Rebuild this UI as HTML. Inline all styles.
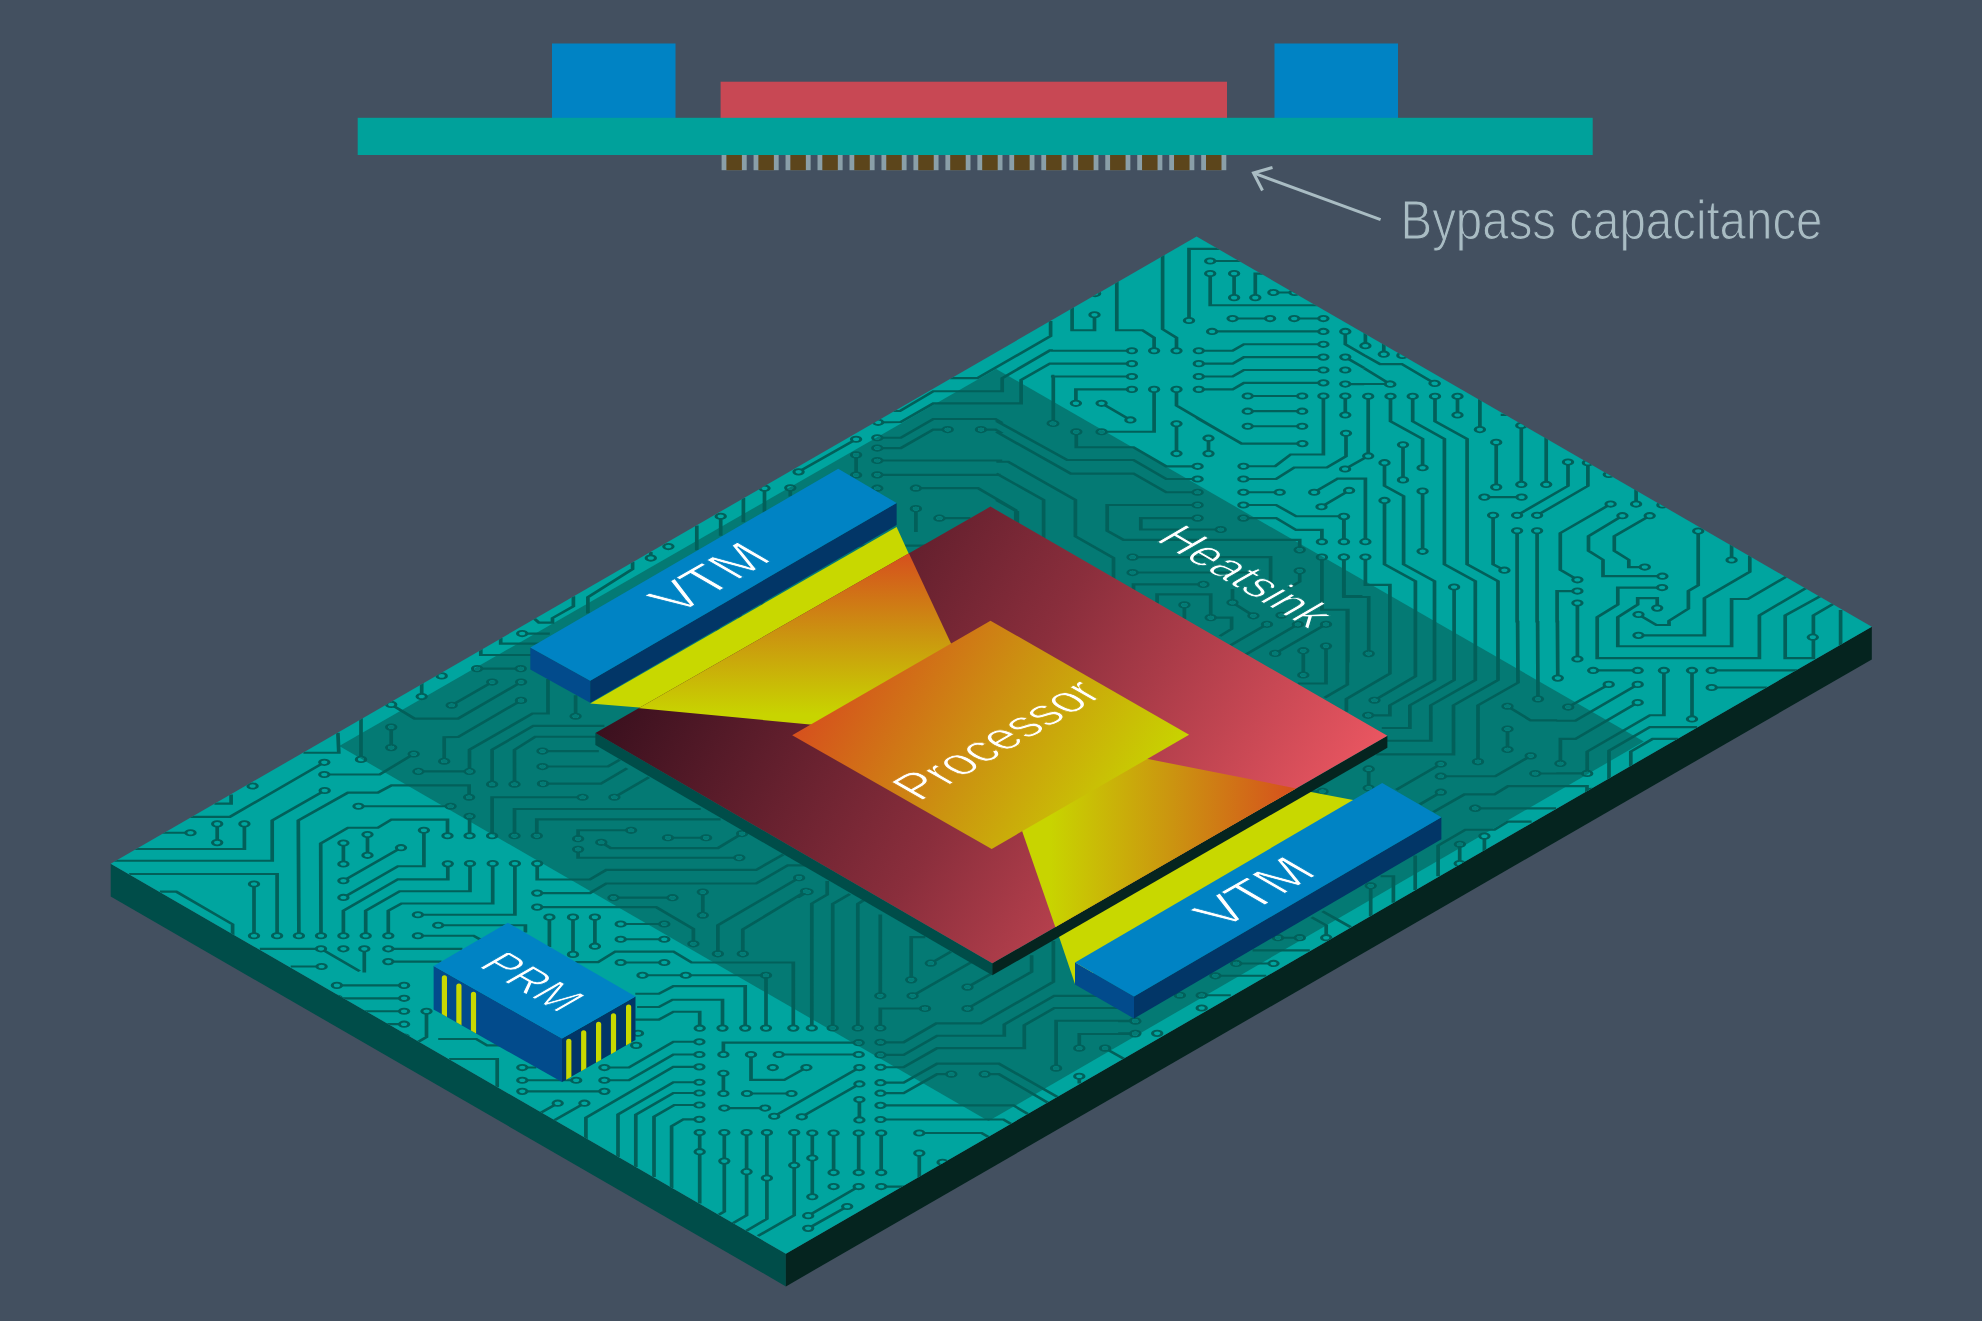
<!DOCTYPE html>
<html><head><meta charset="utf-8"><title>Processor power delivery</title>
<style>
html,body{margin:0;padding:0;background:#435060;}
svg{display:block;}
text{font-family:"Liberation Sans",sans-serif;}
</style></head><body>
<svg width="1982" height="1321" viewBox="0 0 1982 1321">
<defs>
<clipPath id="cb"><polygon points="1196.6,236.5 1871.8,626.7 785.9,1253.7 110.7,863.8"/></clipPath>
<clipPath id="chs"><polygon points="996.1,368.9 1643.8,741.6 988.5,1121.1 339.3,746.1"/></clipPath>
<clipPath id="cr"><polygon points="595.4,733.1 990.5,506.6 1387.4,735.8 992.3,963.3"/></clipPath>
<linearGradient id="gr" gradientUnits="userSpaceOnUse" x1="595.4" y1="733.1" x2="1190.8" y2="1076.8">
<stop offset="0" stop-color="#3a101e"/><stop offset="0.5" stop-color="#8a2e3c"/><stop offset="1" stop-color="#ea5661"/></linearGradient>
<linearGradient id="gp" gradientUnits="userSpaceOnUse" x1="792.2" y1="735.2" x2="1089.7" y2="907.0">
<stop offset="0" stop-color="#d6501d"/><stop offset="0.5" stop-color="#cb9410"/><stop offset="1" stop-color="#c8d400"/></linearGradient>
<linearGradient id="g1" gradientUnits="userSpaceOnUse" x1="0" y1="554" x2="0" y2="715">
<stop offset="0" stop-color="#d6501d"/><stop offset="0.5" stop-color="#cb9410"/><stop offset="1" stop-color="#c8d400"/></linearGradient>
<linearGradient id="g2" gradientUnits="userSpaceOnUse" x1="1050" y1="0" x2="1295" y2="0">
<stop offset="0" stop-color="#c8d400"/><stop offset="0.5" stop-color="#cb9410"/><stop offset="1" stop-color="#d6501d"/></linearGradient>
</defs>
<rect width="1982" height="1321" fill="#435060"/>

<g id="xsec">
<rect x="552" y="43.5" width="123.5" height="74.5" fill="#0083c4"/>
<rect x="1274.5" y="43.5" width="123.5" height="74.5" fill="#0083c4"/>
<rect x="720.6" y="81.7" width="506.4" height="36.3" fill="#c84854"/>
<rect x="357.7" y="117.8" width="1235" height="37.2" fill="#00a19b"/>
<rect x="721.60" y="155" width="25.1" height="15.2" fill="#8a9fa8"/><rect x="726.40" y="155" width="15.5" height="15.2" fill="#5c451b"/>
<rect x="753.57" y="155" width="25.1" height="15.2" fill="#8a9fa8"/><rect x="758.37" y="155" width="15.5" height="15.2" fill="#5c451b"/>
<rect x="785.55" y="155" width="25.1" height="15.2" fill="#8a9fa8"/><rect x="790.35" y="155" width="15.5" height="15.2" fill="#5c451b"/>
<rect x="817.52" y="155" width="25.1" height="15.2" fill="#8a9fa8"/><rect x="822.32" y="155" width="15.5" height="15.2" fill="#5c451b"/>
<rect x="849.49" y="155" width="25.1" height="15.2" fill="#8a9fa8"/><rect x="854.29" y="155" width="15.5" height="15.2" fill="#5c451b"/>
<rect x="881.47" y="155" width="25.1" height="15.2" fill="#8a9fa8"/><rect x="886.27" y="155" width="15.5" height="15.2" fill="#5c451b"/>
<rect x="913.44" y="155" width="25.1" height="15.2" fill="#8a9fa8"/><rect x="918.24" y="155" width="15.5" height="15.2" fill="#5c451b"/>
<rect x="945.41" y="155" width="25.1" height="15.2" fill="#8a9fa8"/><rect x="950.21" y="155" width="15.5" height="15.2" fill="#5c451b"/>
<rect x="977.39" y="155" width="25.1" height="15.2" fill="#8a9fa8"/><rect x="982.19" y="155" width="15.5" height="15.2" fill="#5c451b"/>
<rect x="1009.36" y="155" width="25.1" height="15.2" fill="#8a9fa8"/><rect x="1014.16" y="155" width="15.5" height="15.2" fill="#5c451b"/>
<rect x="1041.33" y="155" width="25.1" height="15.2" fill="#8a9fa8"/><rect x="1046.13" y="155" width="15.5" height="15.2" fill="#5c451b"/>
<rect x="1073.31" y="155" width="25.1" height="15.2" fill="#8a9fa8"/><rect x="1078.11" y="155" width="15.5" height="15.2" fill="#5c451b"/>
<rect x="1105.28" y="155" width="25.1" height="15.2" fill="#8a9fa8"/><rect x="1110.08" y="155" width="15.5" height="15.2" fill="#5c451b"/>
<rect x="1137.25" y="155" width="25.1" height="15.2" fill="#8a9fa8"/><rect x="1142.05" y="155" width="15.5" height="15.2" fill="#5c451b"/>
<rect x="1169.23" y="155" width="25.1" height="15.2" fill="#8a9fa8"/><rect x="1174.03" y="155" width="15.5" height="15.2" fill="#5c451b"/>
<rect x="1201.20" y="155" width="25.1" height="15.2" fill="#8a9fa8"/><rect x="1206.00" y="155" width="15.5" height="15.2" fill="#5c451b"/>
</g>
<g stroke="#a9bcc3" stroke-width="3" fill="none" stroke-linecap="butt"><path d="M1380.6 219.7 L1254 173.2"/><path d="M1272.5 167.5 L1253.5 173 L1262.5 190.5"/></g>
<text x="1400.5" y="239.2" font-size="55.5" fill="#a9bcc3" stroke="#435060" stroke-width="1.1" textLength="422" lengthAdjust="spacingAndGlyphs">Bypass capacitance</text>
<polygon points="110.7,863.8 785.9,1253.7 785.9,1286.4 110.7,896.5" fill="#004d49"/>
<polygon points="785.9,1253.7 1871.8,626.7 1871.8,659.4 785.9,1286.4" fill="#05241f"/>
<polygon points="1196.6,236.5 1871.8,626.7 785.9,1253.7 110.7,863.8" fill="#00a59f"/>
<polygon points="996.1,368.9 1643.8,741.6 988.5,1121.1 339.3,746.1" fill="#047a74"/>
<defs><path id="pd" d="M852.1 1348.2h0M852.1 1124.2h0M874.5 1348.2h0M874.5 1124.2h0M896.9 1348.2h0M896.9 1124.2h0M919.3 1348.2h0M919.3 1124.2h0M941.7 1348.2h0M941.7 1124.2h0M964.1 1348.2h0M964.1 1124.2h0M986.5 1348.2h0M986.5 1124.2h0M1053.7 1236.2h0M1098.5 1370.6h0M1031.3 1236.2h0M1098.5 1393.0h0M1008.9 1236.2h0M1098.5 1415.4h0M762.5 1012.2h0M762.5 1124.2h0M740.1 1012.2h0M740.1 1124.2h0M717.7 1012.2h0M717.7 1124.2h0M1031.3 1393.0h0M1031.3 1437.8h0M1008.9 1393.0h0M1008.9 1437.8h0M986.5 1393.0h0M986.5 1437.8h0M964.1 1393.0h0M964.1 1437.8h0M941.7 1393.0h0M941.7 1437.8h0M1120.9 1281.0h0M1120.9 1169.0h0M1143.3 1281.0h0M1143.3 1169.0h0M874.5 1012.2h0M874.5 1057.0h0M852.1 1012.2h0M852.1 1057.0h0M829.7 1012.2h0M829.7 1057.0h0M807.3 1012.2h0M807.3 1057.0h0M717.7 1303.4h0M717.7 1258.6h0M740.1 1303.4h0M740.1 1258.6h0M762.5 1303.4h0M762.5 1258.6h0M784.9 1303.4h0M784.9 1258.6h0M807.3 1303.4h0M807.3 1258.6h0M1300.1 1348.2h0M1120.9 1437.8h0M807.3 1079.4h0M919.3 1079.4h0M807.3 1101.8h0M919.3 1101.8h0M896.9 989.8h0M896.9 1057.0h0M829.7 1191.4h0M829.7 1303.4h0M336.9 1706.6h0M404.1 1706.6h0M336.9 1729.0h0M404.1 1729.0h0M336.9 1751.4h0M404.1 1751.4h0M336.9 1773.8h0M404.1 1773.8h0M829.7 1460.2h0M1076.1 1460.2h0M740.1 1169.0h0M784.9 1169.0h0M740.1 1191.4h0M784.9 1191.4h0M740.1 1213.8h0M784.9 1213.8h0M740.1 1236.2h0M784.9 1236.2h0M941.7 967.4h0M874.5 989.8h0M941.7 945.0h0M874.5 967.4h0M896.9 1393.0h0M852.1 1393.0h0M896.9 1370.6h0M852.1 1370.6h0M941.7 1101.8h0M941.7 1034.6h0M964.1 1101.8h0M964.1 1034.6h0M1613.7 1370.6h0M1591.3 1370.6h0M1053.7 1213.8h0M1098.5 1213.8h0M829.7 989.8h0M852.1 989.8h0M1120.9 1303.4h0M1165.7 1303.4h0M1143.3 1393.0h0M1143.3 1460.2h0M784.9 1012.2h0M807.3 945.0h0M1076.1 1281.0h0M1076.1 1236.2h0M829.7 1348.2h0M829.7 1325.8h0M1053.7 1393.0h0M1098.5 1460.2h0M1008.9 1370.6h0M919.3 1370.6h0M426.5 1751.4h0M381.7 1818.6h0M1748.1 900.2h0M1770.5 922.6h0M1143.3 1348.2h0M1120.9 1370.6h0M1076.1 1325.8h0M1098.5 1236.2h0M1031.3 1213.8h0M1008.9 1169.0h0M1725.7 900.2h0M1725.7 877.8h0M1098.5 1325.8h0M1098.5 1303.4h0M986.5 945.0h0M964.1 945.0h0M986.5 1079.4h0M986.5 967.4h0M1322.5 1370.6h0M1165.7 1370.6h0M784.9 1057.0h0M807.3 1236.2h0M964.1 967.4h0M964.1 1012.2h0M941.7 989.8h0M919.3 989.8h0M829.7 945.0h0M874.5 945.0h0M1076.1 1191.4h0M1098.5 1191.4h0M1165.7 1213.8h0M1165.7 1169.0h0M404.1 1796.2h0M717.7 1191.4h0M717.7 1146.6h0M1210.5 385.0h0M1210.5 362.6h0M292.1 1706.6h0M269.7 1706.6h0M1210.2 452.1h0M1210.2 473.8h0M1234.1 473.8h0M1234.1 515.5h0M1255.3 515.5h0M1273.4 506.6h0M1294.6 506.6h0M1189.0 555.1h0M1176.5 607.5h0M1154.1 607.5h0M1094.5 545.1h0M1131.9 607.5h0M1131.9 629.8h0M1131.9 652.1h0M1131.9 674.4h0M1075.9 698.5h0M1101.6 698.5h0M1130.4 727.3h0M1154.1 674.4h0M1101.6 747.8h0M1176.5 674.4h0M1176.5 733.9h0M1176.5 785.5h0M1198.8 607.5h0M1323.4 596.3h0M1198.8 629.8h0M1323.4 618.5h0M1198.8 652.1h0M1323.4 640.8h0M1198.8 674.4h0M1323.4 663.1h0M1212.1 574.0h0M1323.4 574.0h0M1232.6 551.7h0M1270.1 551.7h0M1294.2 551.7h0M1323.4 551.7h0M1345.3 574.0h0M1345.3 618.5h0M1345.3 640.8h0M1345.3 665.2h0M1247.7 685.9h0M1302.2 685.9h0M1247.7 712.1h0M1302.2 712.1h0M1247.7 738.3h0M1302.2 738.3h0M1323.4 685.9h0M1243.5 807.5h0M1345.3 685.9h0M1345.3 718.7h0M1095.1 508.4h0M1389.9 665.0h0M1434.5 663.8h0M1368.2 686.4h0M1368.2 789.6h0M1345.1 812.3h0M1390.5 686.4h0M1422.6 810.1h0M1412.7 686.4h0M1435.0 686.4h0M1457.5 686.4h0M1457.5 718.8h0M1479.9 744.0h0M1521.3 736.8h0M1521.3 839.0h0M1496.2 766.0h0M1496.2 843.7h0M1546.2 839.0h0M1568.0 800.3h0M1517.1 892.5h0M1587.9 801.3h0M1537.1 892.5h0M1484.4 861.0h0M1521.6 861.0h0M1346.0 750.3h0M1243.4 829.6h0M1384.5 801.3h0M1403.0 770.4h0M1403.0 831.1h0M1422.6 850.6h0M1422.6 954.8h0M1384.5 866.7h0M1365.4 938.1h0M1349.1 849.4h0M1321.5 877.7h0M1344.0 894.7h0M1344.0 938.1h0M1344.0 964.8h0M1365.4 964.8h0M1493.1 892.5h0M1504.4 987.5h0M1517.1 919.2h0M1537.1 919.2h0M1610.6 873.0h0M1577.4 1004.2h0M1622.4 893.1h0M1662.4 997.9h0M1649.7 893.1h0M1644.8 982.1h0M1636.1 873.0h0M1662.4 874.5h0M1454.1 1016.7h0M1577.4 1023.7h0M1577.4 1044.4h0M1577.4 1141.3h0M1608.8 821.7h0M1662.1 1017.6h0M1657.2 1053.2h0M1698.2 919.8h0M1638.5 1064.2h0M1638.5 1100.4h0M1731.6 969.8h0M1812.8 1103.5h0M1593.2 1161.1h0M1637.7 1161.1h0M1663.9 1161.1h0M1587.2 1339.5h0M1692.0 1161.1h0M1692.0 1245.1h0M1711.7 1161.1h0M1711.7 1190.7h0M1608.7 1185.3h0M1568.2 1224.6h0M1637.7 1185.3h0M1637.7 1216.8h0M1560.4 1322.2h0M1434.8 664.2h0M1390.3 665.4h0M1365.4 598.7h0M1383.8 613.4h0M1402.4 615.5h0M1052.7 733.1h0M1076.3 747.8h0M1197.6 807.6h0M1197.6 829.6h0M1197.6 852.6h0M1208.5 758.9h0M1208.5 785.6h0M1302.4 768.3h0M1314.2 852.6h0M1243.4 852.6h0M1279.7 852.6h0M1243.4 874.6h0M1343.8 894.1h0M1343.8 938.2h0M1243.4 897.3h0M1321.9 938.2h0M1197.6 874.6h0M1299.7 952.3h0M1197.6 897.3h0M1220.7 917.1h0M1132.6 964.9h0M1132.6 991.6h0M1203.4 1012.1h0M1210.7 1069.7h0M1184.4 1047.6h0M1299.7 988.5h0M1232.5 1043.5h0M1253.4 1066.5h0M1267.0 1081.3h0M1297.9 1081.3h0M1326.0 1081.3h0M1275.2 1131.6h0M1303.3 1126.9h0M1303.3 1169.1h0M1326.0 1119.0h0M1321.9 964.9h0M1343.8 964.9h0M1281.5 1065.6h0M1368.7 1132.0h0M1374.5 1212.8h0M1368.2 1238.9h0M1478.0 1319.1h0M1538.0 1210.6h0M1557.8 1174.4h0M1507.5 1223.2h0M1535.3 1339.6h0M1507.5 1262.5h0M1507.5 1298.1h0M1530.7 1309.1h0M1440.8 1344.3h0M1440.8 1323.2h0M1440.8 1372.0h0M1368.7 1331.7h0M1368.7 1364.7h0M1475.3 1400.0h0M1484.4 1448.1h0M1459.9 1462.3h0M361.0 1315.2h0M391.2 1259.3h0M391.2 1294.8h0M324.3 1320.3h0M324.3 1341.4h0M413.7 1305.8h0M418.4 1336.0h0M469.6 1336.0h0M444.2 1318.4h0M521.0 1213.0h0M252.6 1361.2h0M324.7 1369.0h0M469.1 1380.7h0M298.9 1620.7h0M358.5 1396.4h0M450.6 1396.4h0M190.5 1442.3h0M217.2 1426.9h0M217.2 1459.3h0M244.4 1426.9h0M447.5 1447.4h0M321.0 1620.7h0M343.4 1460.0h0M343.4 1496.4h0M367.5 1445.2h0M367.5 1481.3h0M423.9 1437.9h0M343.4 1554.3h0M401.0 1468.1h0M343.4 1525.4h0M447.8 1496.1h0M343.4 1620.7h0M470.0 1495.5h0M365.7 1620.7h0M492.7 1495.5h0M388.3 1620.7h0M417.9 1584.2h0M514.9 1495.5h0M438.2 1602.5h0M417.9 1620.7h0M277.1 1620.7h0M254.0 1531.0h0M254.0 1620.7h0M321.0 1643.3h0M343.4 1643.3h0M364.3 1643.3h0M388.3 1643.3h0M388.3 1665.4h0M321.6 1673.9h0M492.1 1358.1h0M514.5 1358.1h0M543.0 1357.2h0M582.6 1380.8h0M492.1 1447.4h0M614.4 1380.8h0M514.5 1447.4h0M536.8 1447.4h0M469.6 1413.8h0M469.6 1447.4h0M631.1 1438.0h0M578.1 1452.5h0M668.0 1450.9h0M706.1 1450.9h0M601.3 1458.8h0M742.1 1443.7h0M578.1 1471.0h0M739.3 1485.5h0M537.2 1495.6h0M537.2 1546.8h0M613.5 1554.7h0M672.5 1554.7h0M537.2 1571.1h0M693.4 1634.6h0M702.8 1545.0h0M702.8 1585.2h0M799.1 1520.1h0M717.9 1651.9h0M806.0 1543.7h0M742.8 1651.9h0M549.4 1588.4h0M573.0 1588.4h0M573.0 1652.9h0M594.9 1588.4h0M594.9 1638.7h0M620.7 1600.3h0M664.3 1600.3h0M620.7 1626.7h0M664.3 1626.7h0M620.7 1667.0h0M664.3 1667.0h0M793.3 1780.6h0M642.5 1689.0h0M766.0 1689.0h0M685.8 1689.0h0M766.0 1780.6h0M745.2 1780.6h0M722.5 1780.6h0M699.7 1780.7h0M638.0 1789.5h0M636.2 1810.5h0M699.4 1804.3h0M604.4 1848.9h0M699.4 1826.3h0M604.4 1870.9h0M699.4 1847.7h0M699.4 1874.4h0M699.4 1893.0h0M699.4 1913.7h0M699.4 1938.6h0M522.3 1848.9h0M522.3 1870.9h0M576.2 1870.9h0M522.3 1890.1h0M604.4 1890.1h0M557.7 1910.6h0M584.4 1910.6h0M723.4 1826.3h0M858.7 1805.8h0M751.0 1826.3h0M806.4 1848.9h0M778.7 1826.3h0M858.7 1826.3h0M772.8 1848.9h0M723.4 1858.7h0M723.4 1893.9h0M747.0 1893.9h0M791.5 1893.9h0M724.3 1919.1h0M765.1 1919.1h0M774.2 1933.2h0M859.4 1848.9h0M699.7 1961.5h0M699.7 1994.6h0M724.3 1961.5h0M724.3 2010.9h0M746.6 1961.5h0M746.6 2029.2h0M766.9 1961.5h0M766.9 2040.2h0M794.2 1961.5h0M794.2 2018.2h0M801.8 1934.2h0M859.4 1877.3h0M880.5 1805.2h0M880.5 1827.0h0M880.5 1848.3h0M880.5 1875.1h0M880.5 1893.3h0M951.3 1860.3h0M984.7 1860.3h0M880.5 1914.4h0M880.5 1938.9h0M859.4 1904.3h0M859.4 1939.6h0M812.3 1962.2h0M812.3 2072.6h0M812.3 2005.6h0M833.6 1962.2h0M833.6 2030.8h0M858.7 1962.2h0M858.7 2030.8h0M881.2 1962.2h0M881.2 2030.8h0M919.3 1962.2h0M919.3 1997.1h0M942.6 2012.9h0M833.6 2055.0h0M858.7 2055.0h0M808.2 2105.4h0M881.2 2055.0h0M847.2 2089.6h0M808.2 2127.4h0M1056.1 1849.9h0M1135.1 1767.8h0M1079.3 1815.3h0M1135.1 1790.8h0M1105.1 1815.3h0M1079.3 1864.1h0M878.1 731.4h0M1053.3 733.5h0M877.3 758.2h0M877.3 776.0h0M947.7 744.0h0M981.0 744.0h0M877.3 797.5h0M877.3 822.4h0M877.3 845.5h0M915.9 845.5h0M915.9 880.9h0M939.4 897.4h0M856.1 760.8h0M798.6 817.2h0M856.1 787.8h0M856.1 822.7h0M790.3 844.9h0M764.5 845.5h0M811.8 1780.4h0M832.7 1780.4h0M857.8 1780.4h0M880.3 1724.7h0M880.3 1780.4h0M925.0 1746.7h0M911.2 1697.0h0M930.8 1668.1h0M912.6 1724.7h0M967.5 1709.6h0M967.5 1746.7h0M807.6 1544.5h0M1278.0 1624.0h0M1299.8 1624.0h0M1326.2 1624.0h0M1236.2 1668.6h0M1273.5 1668.6h0M1215.4 1690.0h0M1179.9 1723.7h0M1201.7 1723.7h0M1201.7 1745.7h0M1135.4 1768.7h0M1135.4 1789.7h0M1157.2 1789.7h0M1370.7 1534.0h0M1459.7 1495.6h0M1475.1 1399.7h0M542.5 1300.8h0M542.5 1327.6h0M575.6 1240.4h0M477.1 1158.0h0M520.7 1158.0h0M492.2 1181.3h0M451.7 1221.5h0M521.1 1181.3h0M391.2 1220.0h0M441.7 1170.6h0M421.7 1206.4h0M522.2 1097.3h0M650.8 966.5h0M668.4 946.6h0M720.7 894.1h0"/></defs>
<g clip-path="url(#cb)"><g transform="scale(1 0.5774)" fill="none" stroke-linejoin="miter" stroke-linecap="round">
<path d="M852.1 1348.2 852.1 1124.2M874.5 1348.2 874.5 1124.2M896.9 1348.2 896.9 1124.2M919.3 1348.2 919.3 1124.2M941.7 1348.2 941.7 1124.2M964.1 1348.2 964.1 1124.2M986.5 1348.2 986.5 1124.2M1053.7 1236.2 1053.7 1325.8 1098.5 1370.6M1031.3 1236.2 1031.3 1325.8 1098.5 1393.0M1008.9 1236.2 1008.9 1325.8 1098.5 1415.4M762.5 1012.2 762.5 1124.2M740.1 1012.2 740.1 1124.2M717.7 1012.2 717.7 1124.2M1031.3 1393.0 1031.3 1437.8M1008.9 1393.0 1008.9 1437.8M986.5 1393.0 986.5 1437.8M964.1 1393.0 964.1 1437.8M941.7 1393.0 941.7 1437.8M1120.9 1281.0 1120.9 1169.0M1143.3 1281.0 1143.3 1169.0M874.5 1012.2 874.5 1057.0M852.1 1012.2 852.1 1057.0M829.7 1012.2 829.7 1057.0M807.3 1012.2 807.3 1057.0M717.7 1303.4 717.7 1258.6M740.1 1303.4 740.1 1258.6M762.5 1303.4 762.5 1258.6M784.9 1303.4 784.9 1258.6M807.3 1303.4 807.3 1258.6M1300.1 1348.2 1165.7 1348.2 1120.9 1393.0 1120.9 1437.8M807.3 1079.4 919.3 1079.4M807.3 1101.8 919.3 1101.8M896.9 989.8 896.9 1057.0M829.7 1191.4 829.7 1303.4M336.9 1706.6 404.1 1706.6M336.9 1729.0 404.1 1729.0M336.9 1751.4 404.1 1751.4M336.9 1773.8 404.1 1773.8M829.7 1460.2 1076.1 1460.2M740.1 1169.0 784.9 1169.0M740.1 1191.4 784.9 1191.4M740.1 1213.8 784.9 1213.8M740.1 1236.2 784.9 1236.2M941.7 967.4 896.9 967.4 874.5 989.8M941.7 945.0 896.9 945.0 874.5 967.4M896.9 1393.0 852.1 1393.0M896.9 1370.6 852.1 1370.6M941.7 1101.8 941.7 1034.6M964.1 1101.8 964.1 1034.6M1613.7 1370.6 1591.3 1370.6M1053.7 1213.8 1098.5 1213.8M829.7 989.8 852.1 989.8M1120.9 1303.4 1165.7 1303.4M1143.3 1393.0 1143.3 1460.2M784.9 1012.2 807.3 989.8 807.3 945.0M1076.1 1281.0 1076.1 1236.2M829.7 1348.2 829.7 1325.8M1053.7 1393.0 1053.7 1415.4 1098.5 1460.2M1008.9 1370.6 919.3 1370.6M426.5 1751.4 426.5 1796.2 404.1 1818.6 381.7 1818.6M1748.1 900.2 1770.5 922.6M1143.3 1348.2 1120.9 1370.6M1076.1 1325.8 1076.1 1303.4 1098.5 1281.0 1098.5 1236.2M1031.3 1213.8 1008.9 1191.4 1008.9 1169.0M1725.7 900.2 1725.7 877.8M1098.5 1325.8 1098.5 1303.4M986.5 945.0 964.1 945.0M986.5 1079.4 986.5 967.4M1322.5 1370.6 1165.7 1370.6M784.9 1057.0 784.9 1101.8 829.7 1146.6 829.7 1169.0 807.3 1191.4 807.3 1236.2M964.1 967.4 964.1 1012.2M941.7 989.8 919.3 989.8M829.7 945.0 874.5 945.0M1076.1 1191.4 1098.5 1191.4M1165.7 1213.8 1165.7 1169.0M717.7 1191.4 717.7 1146.6M1210.5 385.0 1210.5 362.6M292.1 1706.6 269.7 1706.6M1210.2 452.1 1246.2 452.1M1210.2 473.8 1210.2 528.6 1326.4 528.6M1234.1 473.8 1234.1 515.5M1265.9 473.8 1255.3 473.8 1255.3 515.5M1273.4 506.6 1294.6 506.6M1223.5 431.1 1189.0 431.1 1189.0 555.1M1162.6 437.7 1162.6 570.0 1176.5 585.0 1176.5 607.5M1116.8 484.8 1116.8 571.9 1142.5 571.9 1154.1 585.0 1154.1 607.5M1072.1 529.4 1072.1 571.9 1094.5 571.9 1094.5 545.1M1050.9 607.5 1131.9 607.5M1050.9 629.8 1131.9 629.8M1050.9 652.1 1131.9 652.1M1131.9 674.4 1075.9 674.4 1075.9 698.5M1101.6 698.5 1130.4 727.3M1154.1 674.4 1154.1 747.8 1101.6 747.8M1176.5 674.4 1176.5 702.4 1223.8 750.4M1176.5 733.9 1176.5 785.5M1198.8 607.5 1232.6 607.5 1243.9 596.3 1323.4 596.3M1198.8 629.8 1232.6 629.8 1243.9 618.5 1323.4 618.5M1198.8 652.1 1232.6 652.1 1243.9 640.8 1323.4 640.8M1198.8 674.4 1232.6 674.4 1243.9 663.1 1323.4 663.1M1212.1 574.0 1323.4 574.0M1232.6 551.7 1270.1 551.7M1294.2 551.7 1323.4 551.7M1345.3 574.0 1345.3 596.3 1364.2 615.4M1345.3 618.5 1364.2 637.4M1345.3 665.2 1364.2 665.2M1247.7 685.9 1302.2 685.9M1247.7 712.1 1302.2 712.1M1247.7 738.3 1302.2 738.3M1323.4 685.9 1323.4 787.1 1290.7 787.1 1275.2 807.5 1243.5 807.5M1345.3 685.9 1345.3 718.7M1361.8 665.0 1389.9 665.0M1368.2 686.4 1368.2 789.6M1368.2 789.6 1345.1 812.3M1390.5 686.4 1390.5 729.8 1422.6 760.4 1422.6 810.1M1412.7 686.4 1412.7 729.8 1444.4 760.4 1444.4 977.4 1475.3 1006.7 1475.3 1078.1M1435.0 686.4 1435.0 729.8 1467.1 760.4 1467.1 977.4 1498.0 1006.7 1498.0 1078.1M1457.5 686.4 1457.5 718.8M1479.9 689.6 1479.9 744.0M1500.7 718.5 1510.7 718.5M1521.3 736.8 1521.3 839.0M1496.2 766.0 1496.2 843.7M1546.2 755.6 1546.2 839.0M1568.0 800.3 1568.0 841.5 1517.1 892.5M1587.9 801.3 1587.9 841.5 1537.1 892.5M1484.4 861.0 1521.6 861.0M1346.0 750.3 1346.0 790.2 1326.9 809.7 1294.2 809.7 1276.1 829.6 1243.4 829.6M1384.5 801.3 1384.5 841.5 1403.6 859.4 1403.6 977.4 1434.5 1006.7 1434.5 1078.1M1403.0 770.4 1403.0 831.1M1422.6 850.6 1422.6 954.8M1384.5 866.7 1384.5 977.4 1415.4 1006.7 1415.4 1078.1M1336.4 828.9 1365.4 828.9 1365.4 938.1M1349.1 849.4 1321.5 877.7M1344.0 894.7 1344.0 938.1M1344.0 964.8 1344.0 1034.0 1368.7 1034.0 1368.7 1078.1M1365.4 964.8 1365.4 1013.0 1389.9 1013.0 1389.9 1078.1M1336.4 1056.1 1347.3 1056.1 1347.3 1078.1M1493.1 892.5 1493.1 977.4 1504.4 987.5M1517.1 919.2 1517.1 1078.1M1537.1 919.2 1537.1 1078.1M1610.6 873.0 1560.3 923.3 1560.3 986.9 1577.4 1004.2M1622.4 893.1 1588.5 928.7 1588.5 953.8 1603.0 969.6 1603.0 997.9 1662.4 997.9M1649.7 893.1 1614.3 928.7 1614.3 953.8 1628.8 969.6 1628.8 982.1 1644.8 982.1M1636.1 843.7 1636.1 873.0M1454.1 1016.7 1454.1 1078.1M1577.4 1023.7 1557.1 1023.7 1557.1 1078.1M1577.4 1044.4 1577.4 1141.3M1662.1 1017.6 1617.8 1017.6 1617.8 1046.9 1597.2 1068.9 1597.2 1139.7 1759.4 1139.7 1759.4 1065.8 1807.0 1017.6M1657.2 1053.2 1657.2 1035.9 1637.7 1035.9 1637.7 1046.9 1617.8 1068.9 1617.8 1119.3 1731.6 1119.3 1731.6 1037.5 1748.0 1037.5 1786.1 998.8M1698.2 919.8 1698.2 1013.6 1688.4 1023.6 1688.4 1054.1 1669.0 1075.2 1669.0 1082.4 1656.3 1082.4 1638.5 1064.2M1638.5 1100.4 1704.4 1100.4 1704.4 1035.9 1749.8 990.3 1749.8 962.0M1731.6 969.8 1731.6 943.1M1820.6 1032.1 1785.2 1065.8 1785.2 1139.7 1813.4 1139.7 1813.4 1065.8 1833.9 1045.3M1840.6 1056.3 1840.6 1118.3M1593.2 1161.1 1637.7 1161.1M1663.9 1161.1 1663.9 1238.8 1649.9 1238.8 1587.2 1301.7 1587.2 1339.5M1587.2 1339.5 1556.4 1339.5M1692.0 1161.1 1692.0 1245.1M1711.7 1161.1 1797.9 1161.1M1711.7 1190.7 1767.1 1190.7M1608.7 1185.3 1568.2 1224.6M1637.7 1185.3 1575.4 1248.2 1556.4 1248.2M1637.7 1216.8 1575.4 1279.7 1560.4 1279.7 1560.4 1322.2M1697.1 1259.2 1649.9 1259.2 1609.0 1300.1 1609.0 1355.2M1678.1 1279.7 1652.6 1279.7 1630.8 1301.7 1630.8 1328.4M1364.2 615.3 1380.0 630.6 1401.8 630.6 1434.8 664.2M1364.2 637.7 1390.3 665.4M1365.4 575.7 1365.4 598.7M1383.8 594.5 1383.8 613.4M1076.3 747.8 1076.3 774.6 1133.5 774.6 1166.2 807.6 1197.6 807.6M996.4 729.0 1067.2 796.6 1133.5 796.6 1166.2 829.6 1197.6 829.6M996.4 747.8 1070.8 820.2 1133.5 820.2 1166.2 852.6 1197.6 852.6M996.4 799.8 1008.2 799.8 1075.4 865.8 1075.4 928.7 1113.5 966.5 1113.5 1004.2M996.4 820.2 1043.6 865.8 1043.6 935.0M996.4 865.8 1017.3 886.3 1017.3 909.9M1208.5 758.9 1208.5 785.6M1196.5 723.6 1241.6 768.3 1302.4 768.3M1314.2 852.6 1337.8 828.7 1362.4 828.7M1243.4 852.6 1279.7 852.6M1243.4 874.6 1276.1 874.6 1296.1 894.1 1343.8 894.1M1343.8 894.1 1343.8 938.2M1243.4 897.3 1276.1 897.3 1296.1 917.7 1321.9 917.7 1321.9 938.2M1197.6 874.6 1107.2 874.6 1107.2 919.3 1123.5 935.0 1299.7 935.0 1299.7 952.3M1197.6 897.3 1140.8 897.3 1140.8 917.1 1220.7 917.1M1132.6 964.9 1270.6 964.9 1270.6 1010.5M1132.6 991.6 1254.3 991.6M1203.4 1012.1 1133.5 1012.1 1133.5 1023.1M1157.1 1045.1 1157.1 1029.4 1210.7 1029.4 1210.7 1069.7M1210.7 1069.7 1231.6 1069.7 1231.6 1089.2 1219.8 1101.7M1184.4 1047.6 1184.4 1071.9M1299.7 988.5 1299.7 1007.4 1288.8 1018.4M1232.5 1020.0 1232.5 1043.5M1232.5 1043.5 1253.4 1066.5M1267.0 1081.3 1230.7 1117.5M1297.9 1081.3 1241.6 1137.9M1326.0 1081.3 1275.2 1131.6M1303.3 1126.9 1303.3 1169.1M1326.0 1119.0 1326.0 1183.8 1297.9 1183.8M1321.9 964.9 1321.9 1056.1 1347.8 1056.1 1347.8 1147.4M1343.8 964.9 1343.8 1032.5 1362.4 1032.5M1347.3 1075.3 1347.3 1185.4 1324.6 1208.4M1368.7 1075.3 1368.7 1132.0M1389.9 1075.3 1389.9 1166.6 1346.4 1210.6 1346.4 1232.6M1415.4 1075.3 1415.4 1171.3 1374.5 1212.8M1434.5 1075.3 1434.5 1177.6 1389.9 1221.6 1389.9 1238.9 1368.2 1238.9M1454.1 1075.3 1454.1 1177.6 1409.9 1221.6 1409.9 1260.9 1381.8 1260.9M1475.3 1075.3 1475.3 1177.6 1430.8 1221.6 1430.8 1283.0 1386.3 1283.0M1498.0 1075.3 1498.0 1177.6 1453.5 1221.6 1453.5 1306.5 1376.3 1306.5M1517.6 1075.3 1518.0 1182.3 1478.0 1221.6 1478.0 1319.1M1537.6 1075.3 1538.0 1210.6M1557.4 1075.3 1557.8 1174.4M1557.1 1247.7 1530.7 1247.7 1507.5 1223.2M1557.1 1339.6 1535.3 1339.6M1507.5 1262.5 1507.5 1298.1M1530.7 1309.1 1495.3 1344.3 1440.8 1344.3M1440.8 1323.2 1396.3 1367.9M1440.8 1372.0 1419.9 1393.1M1368.7 1331.7 1368.7 1364.7M1587.0 1371.0 1587.0 1361.6 1508.0 1361.6 1494.4 1375.8 1464.4 1375.8 1433.5 1406.3M1475.3 1400.0 1556.1 1400.0M1531.6 1422.9 1508.0 1422.9 1494.4 1437.1 1465.3 1437.1 1438.1 1464.5 1438.1 1517.6M1484.4 1448.1 1484.4 1476.4M303.4 1303.6 338.8 1303.6 337.9 1269.0M361.0 1242.3 361.0 1315.2M391.2 1259.3 391.2 1294.8M324.3 1320.3 229.9 1414.7 187.2 1414.7M324.3 1341.4 379.7 1341.4 413.7 1305.8M418.4 1336.0 469.6 1336.0M444.2 1318.4 444.2 1276.9 458.2 1276.2 521.0 1213.0M214.4 1391.7 231.1 1391.7 231.1 1376.0M324.7 1369.0 272.2 1420.9 272.2 1490.8 113.6 1490.8M469.1 1380.7 469.1 1360.2 391.5 1360.2 377.9 1372.8 347.9 1372.8 298.3 1420.9 298.9 1620.7M358.5 1396.4 450.6 1396.4M190.5 1442.3 161.8 1442.3M217.2 1426.9 217.2 1459.3M244.4 1426.9 244.4 1470.3 134.5 1470.3M447.5 1447.4 447.5 1419.4 391.5 1419.4 377.9 1433.5 347.9 1433.5 320.7 1460.9 321.0 1620.7M343.4 1460.0 343.4 1496.4M367.5 1445.2 367.5 1481.3M423.9 1437.9 423.9 1500.2 397.9 1500.2 343.4 1554.3M401.0 1468.1 343.4 1525.4M447.8 1496.1 447.8 1522.9 397.9 1522.9 343.4 1577.3 343.4 1620.7M470.0 1495.5 470.0 1543.6 399.7 1543.6 365.7 1577.3 365.7 1620.7M492.7 1495.5 492.7 1564.7 401.5 1564.7 388.3 1577.3 388.3 1620.7M417.9 1584.2 514.9 1584.2 514.9 1495.5M438.2 1602.5 525.4 1602.5 525.4 1615.0M417.9 1620.7 473.6 1620.7 481.4 1628.2M129.1 1513.7 277.1 1513.7 277.1 1620.7M254.0 1531.0 254.0 1620.7M159.9 1544.3 176.3 1544.3 232.6 1600.9 232.6 1619.8M259.8 1643.3 321.0 1643.3M321.0 1643.3 359.7 1682.0M364.3 1643.3 364.3 1684.2M388.3 1643.3 462.4 1643.3M388.3 1665.4 441.5 1665.4M321.6 1673.9 290.7 1673.9M492.1 1358.1 492.1 1298.6 533.4 1257.1 604.4 1257.1M514.5 1358.1 514.5 1298.6 535.2 1276.0 600.8 1276.0M543.0 1357.2 600.8 1357.2 627.1 1330.4M582.6 1380.8 492.1 1380.8 492.1 1447.4M614.4 1380.8 648.9 1346.1M700.7 1401.2 514.5 1401.2 514.5 1447.4M720.6 1419.1 536.8 1419.1 536.8 1447.4M469.6 1413.8 469.6 1447.4M631.1 1438.0 578.1 1438.0 578.1 1452.5M668.0 1450.9 706.1 1450.9M601.3 1458.8 610.7 1468.8 717.9 1468.8 742.1 1443.7M578.1 1471.0 578.1 1485.5 739.3 1485.5M537.2 1495.6 537.2 1523.3 589.9 1523.3 606.2 1506.6 756.1 1506.6 783.3 1479.8M537.2 1546.8 589.9 1546.8 606.2 1530.2 756.1 1530.2 787.8 1498.7 812.4 1498.7M613.5 1554.7 672.5 1554.7M537.2 1571.1 656.2 1571.1 693.4 1608.8 693.4 1634.6M702.8 1545.0 702.8 1585.2M799.1 1520.1 717.9 1602.5 717.9 1651.9M806.0 1543.7 742.8 1609.8 742.8 1651.9M549.4 1588.4 549.4 1640.3M573.0 1588.4 573.0 1652.9M594.9 1588.4 594.9 1638.7M620.7 1600.3 664.3 1600.3M620.7 1626.7 664.3 1626.7M620.7 1667.0 664.3 1667.0M575.3 1666.4 598.0 1666.4 615.3 1648.1 673.4 1648.1 691.6 1667.0 793.3 1667.0 793.3 1780.6M642.5 1689.0 766.0 1689.0M766.0 1689.0 766.0 1780.6M635.3 1721.1 658.9 1721.1 673.4 1707.9 745.2 1707.9 745.2 1780.6M637.1 1744.1 658.9 1744.1 672.5 1731.5 722.5 1731.5 722.5 1780.6M635.3 1765.9 658.9 1765.9 673.4 1752.3 699.7 1752.3 699.7 1780.7M699.4 1804.3 673.4 1804.3 628.9 1848.9 604.4 1848.9M699.4 1826.3 673.4 1826.3 628.9 1870.9 604.4 1870.9M699.4 1847.7 673.4 1847.7 585.9 1935.7 585.9 1974.1M699.4 1874.4 673.4 1874.4 618.0 1930.1 618.0 2004.0M699.4 1893.0 673.4 1893.0 635.8 1930.7 635.8 2021.3M699.4 1913.7 674.3 1913.7 654.0 1933.9 654.0 2038.6M699.4 1938.6 683.4 1938.6 671.6 1950.5 671.6 2057.5M522.3 1848.9 536.3 1848.9M522.3 1870.9 576.2 1870.9M522.3 1890.1 604.4 1890.1M557.7 1910.6 539.9 1928.2M584.4 1910.6 553.5 1941.1M438.2 1799.5 476.3 1799.5 487.2 1810.5 499.9 1810.5M449.1 1834.1 497.2 1834.1 497.2 1882.9M723.4 1826.3 723.4 1805.8 858.7 1805.8M751.0 1826.3 751.0 1870.3 784.2 1870.3 806.4 1848.9M778.7 1826.3 858.7 1826.3M723.4 1858.7 723.4 1893.9M747.0 1893.9 791.5 1893.9M724.3 1919.1 765.1 1919.1M774.2 1933.2 859.4 1848.9M699.7 1961.5 699.7 2084.2M724.3 1961.5 724.3 2098.4 718.8 2104.0M746.6 1961.5 746.6 2104.7 732.4 2118.8M766.9 1961.5 766.9 2111.0 746.1 2132.0M794.2 1961.5 794.2 2104.7 757.9 2140.8M801.8 1934.2 859.4 1877.3M880.5 1805.2 903.5 1805.2 936.2 1772.5 980.7 1772.5 1053.4 1700.2 1053.4 1629.7M880.5 1827.0 903.5 1827.0 937.1 1793.9 1004.3 1793.9 1004.3 1774.1 1054.3 1724.7 1097.0 1724.7M880.5 1848.3 903.5 1848.3 937.1 1815.3 1024.3 1815.3 1024.3 1775.7 1054.3 1745.8 1121.5 1745.8M880.5 1875.1 903.5 1875.1 937.1 1842.1 998.9 1842.1 1058.8 1901.2M880.5 1893.3 903.5 1893.3 937.1 1860.3 951.3 1860.3M984.7 1860.3 998.9 1860.3 1047.9 1909.7M880.5 1914.4 1013.4 1914.4 1028.8 1930.1M880.5 1938.9 1003.4 1938.9 1012.5 1948.1M859.4 1904.3 859.4 1939.6M812.3 1962.2 812.3 2072.6M833.6 1962.2 833.6 2030.8M858.7 1962.2 858.7 2030.8M881.2 1962.2 881.2 2030.8M919.3 1962.2 981.6 1962.2 989.8 1970.4M919.3 1997.1 919.3 2040.2M858.7 2055.0 808.2 2105.4M881.2 2055.0 904.4 2055.0M847.2 2089.6 808.2 2127.4M1056.1 1849.9 1056.1 1767.8 1135.1 1767.8M1079.3 1815.3 1079.3 1790.8 1135.1 1790.8M1105.1 1815.3 1124.2 1834.2M1079.3 1864.1 1079.3 1876.7M1052.9 606.9 1049.9 606.9 1002.2 654.9 1002.2 677.7 933.3 677.7 900.0 711.8 893.2 711.8M1052.9 629.7 1049.9 629.7 1021.1 658.0 1021.1 698.7 933.3 698.7 900.8 730.9 878.1 731.4M1054.4 651.0 1053.3 651.0 1053.3 733.5M1050.6 555.8 1050.6 582.0 977.2 654.9 950.0 654.9M877.3 758.2 900.8 758.2 933.3 725.7 995.4 725.7 1002.2 732.5M877.3 776.0 900.8 776.0 933.3 744.0 947.7 744.0M981.0 744.0 995.4 744.0 1002.2 750.8M877.3 797.5 1002.2 797.5M877.3 822.4 1000.7 822.4M915.9 845.5 978.0 845.5 1015.8 883.5 1015.8 901.8M915.9 880.9 915.9 921.5M939.4 897.4 970.4 897.4M856.1 760.8 798.6 817.2M856.1 787.8 856.1 822.7M790.3 844.9 790.3 859.9M764.5 845.5 764.5 888.7M827.2 1525.6 827.2 1549.2 811.8 1564.9 811.8 1780.4M849.9 1548.2 832.7 1565.5 832.7 1780.4M863.6 1559.2 857.8 1565.5 857.8 1780.4M880.3 1583.8 880.3 1724.7M880.3 1780.4 880.3 1746.7 925.0 1746.7M911.2 1697.0 911.2 1623.1 925.3 1623.1M930.8 1668.1 950.8 1648.3M912.6 1724.7 971.6 1666.2M967.5 1709.6 991.6 1686.0M967.5 1746.7 1031.6 1682.9 1031.6 1654.6M807.6 1544.5 798.2 1553.9M1278.0 1624.0 1299.8 1624.0M1326.2 1624.0 1326.2 1602.6 1311.6 1588.4M1322.5 1578.0 1350.7 1605.7M1252.6 1646.0 1309.8 1646.0M1236.2 1668.6 1273.5 1668.6M1215.4 1690.0 1266.2 1690.0M1201.7 1723.7 1230.8 1723.7M1118.2 1768.7 1135.4 1768.7M1118.2 1789.7 1135.4 1789.7M1370.7 1534.0 1370.7 1586.8M1380.6 1517.6 1393.4 1517.6 1393.4 1563.3M1415.2 1481.5 1415.2 1541.2M1459.7 1462.6 1459.7 1495.6M469.5 1336.0 469.5 1298.6 532.5 1235.7 548.0 1235.7 548.0 1175.9M542.5 1300.8 598.8 1300.8M542.5 1327.6 607.9 1327.6 619.7 1315.9M575.6 1240.4 575.6 1204.2M477.1 1158.0 520.7 1158.0M492.2 1181.3 451.7 1221.5M521.1 1181.3 458.1 1244.5 414.5 1244.5 391.2 1220.0M421.7 1206.4 421.7 1182.2M522.2 1097.3 549.8 1097.3M500.7 1105.1 500.7 1114.6 540.7 1114.6M480.8 1124.0 480.8 1134.4 532.5 1134.4M534.3 1071.5 538.9 1078.4 552.5 1078.4 552.5 1070.5 573.4 1050.1 573.4 1032.8M587.9 1062.7 587.9 1034.4 632.6 985.6 632.6 973.0M650.8 966.5 650.8 956.0M696.8 909.9 696.8 952.8M720.7 894.1 720.7 927.7M743.4 862.7 743.4 904.6" stroke="#02605a" stroke-width="3.7" stroke-linecap="butt"/>
<use href="#pd" stroke="#02605a" stroke-width="12.4"/>
<use href="#pd" stroke="#00a59f" stroke-width="6.2"/>
</g></g>
<g clip-path="url(#chs)"><g transform="scale(1 0.5774)" fill="none" stroke-linecap="round"><use href="#pd" stroke="#047a74" stroke-width="6.2"/></g></g>
<polygon points="590.2,703.5 896.6,527.0 949.6,643.6 814.9,721.9" fill="#c8d800"/>
<polygon points="1148.3,761.1 1382.2,805.5 1075.0,984.0 1023.5,831.6" fill="#c8d800"/>
<polygon points="595.4,733.1 992.3,963.3 992.3,975.3 595.4,745.1" fill="#004d49"/>
<polygon points="992.3,963.3 1387.4,735.8 1387.4,747.8 992.3,975.3" fill="#05241f"/>
<polygon points="595.4,733.1 990.5,506.6 1387.4,735.8 992.3,963.3" fill="url(#gr)"/>
<g clip-path="url(#cr)"><polygon points="590.2,703.5 896.6,527.0 955.0,652.0 826.0,726.0" fill="url(#g1)"/><polygon points="1138.0,757.0 1382.2,805.5 1075.0,984.0 1019.0,822.0" fill="url(#g2)"/></g>
<polygon points="792.2,735.2 990.5,620.7 1189.1,734.8 991.7,848.9" fill="url(#gp)"/>
<polygon points="530.3,647.4 590.2,680.7 590.2,702.7 530.3,669.4" fill="#024b8c"/><polygon points="590.2,680.7 896.6,503.0 896.6,525.0 590.2,702.7" fill="#023667"/><polygon points="530.3,647.4 838.2,468.8 896.6,503.0 590.2,680.7" fill="#0083c4"/>
<polygon points="1075.0,962.4 1134.0,996.5 1134.0,1018.5 1075.0,984.4" fill="#024b8c"/><polygon points="1134.0,996.5 1441.4,817.3 1441.4,839.3 1134.0,1018.5" fill="#023667"/><polygon points="1075.0,962.4 1382.2,783.1 1441.4,817.3 1134.0,996.5" fill="#0083c4"/>
<polygon points="433.6,965.9 562.0,1038.6 562.0,1082.1 433.6,1009.4" fill="#024b8c"/><polygon points="562.0,1038.6 635.5,996.6 635.5,1040.1 562.0,1082.1" fill="#023667"/><path d="M441.8 1014.0 V977.8 a2.6 2.6 0 0 1 5.2 0 V1017.0 Z" fill="#c8d800"/><path d="M456.3 1022.2 V986.0 a2.6 2.6 0 0 1 5.2 0 V1025.2 Z" fill="#c8d800"/><path d="M470.9 1030.5 V994.3 a2.6 2.6 0 0 1 5.2 0 V1033.5 Z" fill="#c8d800"/><path d="M566.2 1079.7 V1041.3 a2.6 2.6 0 0 1 5.2 0 V1076.7 Z" fill="#c8d800"/><path d="M581.1 1071.2 V1032.8 a2.6 2.6 0 0 1 5.2 0 V1068.2 Z" fill="#c8d800"/><path d="M596.0 1062.7 V1024.3 a2.6 2.6 0 0 1 5.2 0 V1059.7 Z" fill="#c8d800"/><path d="M610.9 1054.2 V1015.8 a2.6 2.6 0 0 1 5.2 0 V1051.2 Z" fill="#c8d800"/><path d="M626.0 1045.5 V1007.1 a2.6 2.6 0 0 1 5.2 0 V1042.5 Z" fill="#c8d800"/><polygon points="433.6,965.9 507.8,922.7 635.5,996.6 562.0,1038.6" fill="#0083c4"/>
<mask id="mt" maskUnits="userSpaceOnUse" x="0" y="0" width="1982" height="1321"><g stroke="#000" stroke-width="1.1"><text transform="matrix(0.8140 0.4700 -0.8660 0.5000 1154 540)" font-size="48.8" fill="#fff">Heatsink</text><text transform="matrix(0.7837 -0.4525 0.8660 0.5000 919.5 802)" font-size="52.6" fill="#fff">Processor</text><text transform="matrix(0.8270 -0.4775 0.8660 0.5000 677.5 615)" font-size="55.4" fill="#fff">VTM</text><text transform="matrix(0.8270 -0.4775 0.8660 0.5000 1222.5 929.5)" font-size="55.4" fill="#fff">VTM</text><text transform="matrix(0.7837 0.4525 -0.8660 0.5000 477.1 966.0)" font-size="47.4" fill="#fff">PRM</text></g></mask>
<rect x="400" y="400" width="1100" height="700" fill="#fff" mask="url(#mt)"/>
</svg></body></html>
